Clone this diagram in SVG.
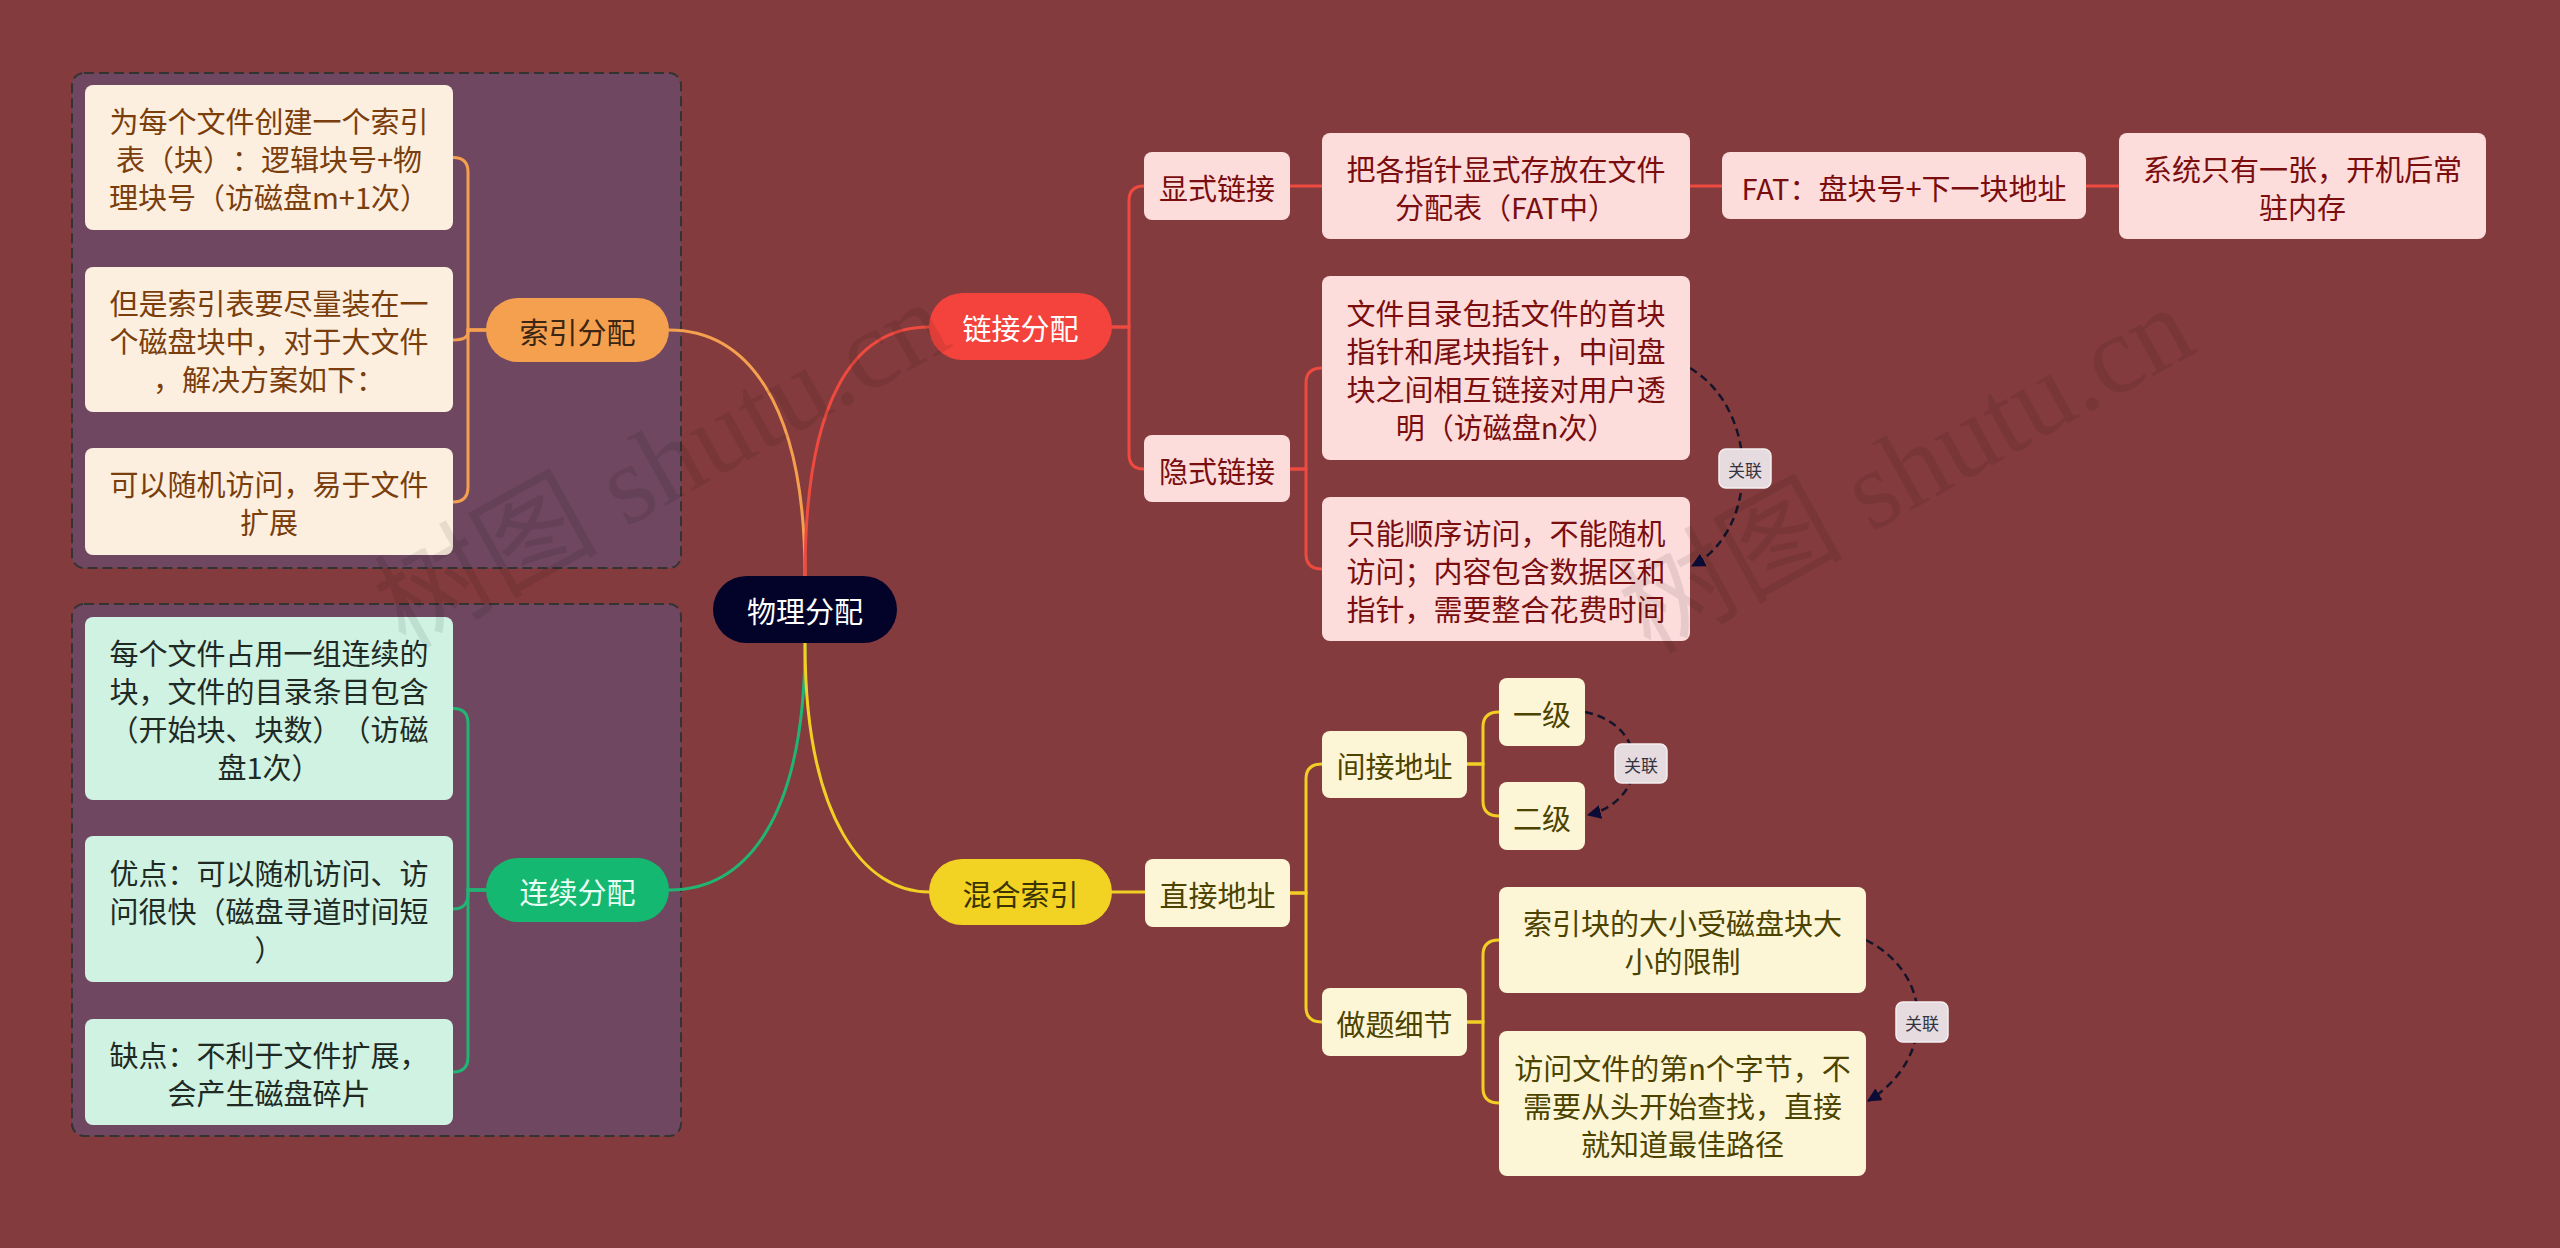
<svg xmlns="http://www.w3.org/2000/svg" width="2560" height="1248" viewBox="0 0 2560 1248">
<defs>
<style>
.t{font-family:"Noto Sans CJK SC","Noto Sans",sans-serif;font-size:29px;text-anchor:middle;dominant-baseline:central;text-spacing-trim:space-all}
.s{font-family:"Noto Sans CJK SC","Noto Sans",sans-serif;font-size:17px;text-anchor:middle;dominant-baseline:central;fill:#333340}
.grp{fill:#6F4760;stroke:#333;stroke-width:2;stroke-dasharray:10 5}
.c{fill:none;stroke-width:3;stroke-linecap:round}
.or{stroke:#F5A04F}.gr{stroke:#21B574}.rd{stroke:#EE4A40}.ye{stroke:#F2CF24}
.rel{fill:none;stroke:#14142a;stroke-width:2.5;stroke-dasharray:8 5}
.lab{fill:#E6DCE0;stroke:#f4eef0;stroke-width:1.5}
.nO{fill:#FDEFE0}.tO{fill:#7A3E0C}
.nG{fill:#CFF2E3}.tG{fill:#1F2A24}
.nR{fill:#FDDCDC}.tR{fill:#7A0E0E}
.nY{fill:#FDF6D6}.tY{fill:#4C4300}
.wm{font-family:"Liberation Serif","Noto Sans CJK SC",serif;font-size:112px;fill:#000;opacity:0.08}
</style>
<marker id="ah" viewBox="0 0 12 12" refX="11" refY="6" markerWidth="14" markerHeight="14" markerUnits="userSpaceOnUse" orient="auto">
<path d="M0,0 L12,6 L0,12 Z" fill="#0B0B35"/>
</marker>
</defs>
<rect x="0" y="0" width="2560" height="1248" fill="#843B3D"/>

<rect class="grp" x="72" y="73" width="609" height="495" rx="12"/>
<rect class="grp" x="72" y="604" width="609" height="532" rx="12"/>

<g id="connectors">
<path class="c or" d="M669,330 C745,330 805,400 805,576"/>
<path class="c rd" d="M929,327 C853,327 805,400 805,576"/>
<path class="c gr" d="M669,890 C745,890 805,820 805,643"/>
<path class="c ye" d="M929,892 C865,892 805,820 805,643"/>

<path class="c or" d="M486,330 H468 V172 Q468,157.5 453,157.5"/>
<path class="c or" d="M486,330 H468 V332 Q468,340 453,340"/>
<path class="c or" d="M486,330 H468 V487 Q468,502 453,502"/>

<path class="c gr" d="M486,890 H468 V723 Q468,708.5 453,708.5"/>
<path class="c gr" d="M486,890 H468 V894 Q468,909 453,909"/>
<path class="c gr" d="M486,890 H468 V1057 Q468,1072 453,1072"/>

<path class="c rd" d="M1112,327 H1129 V201 Q1129,186 1144,186"/>
<path class="c rd" d="M1112,327 H1129 V454 Q1129,469 1144,469"/>
<path class="c rd" d="M1290,186 H1322"/>
<path class="c rd" d="M1690,186 H1722"/>
<path class="c rd" d="M2086,186 H2119"/>
<path class="c rd" d="M1290,469 H1306 V383 Q1306,368 1322,368"/>
<path class="c rd" d="M1290,469 H1306 V554 Q1306,569 1322,569"/>

<path class="c ye" d="M1112,892 H1145"/>
<path class="c ye" d="M1290,893 H1306 V779 Q1306,764 1322,764"/>
<path class="c ye" d="M1290,893 H1306 V1007 Q1306,1022 1322,1022"/>
<path class="c ye" d="M1467,764 H1483 V727 Q1483,712 1499,712"/>
<path class="c ye" d="M1467,764 H1483 V801 Q1483,816 1499,816"/>
<path class="c ye" d="M1467,1022 H1483 V955 Q1483,940 1499,940"/>
<path class="c ye" d="M1467,1022 H1483 V1088 Q1483,1103 1499,1103"/>

<path class="rel" d="M1690,368 C1760,410 1760,530 1692,566" marker-end="url(#ah)"/>
<path class="rel" d="M1585,712 C1650,725 1650,800 1588,815" marker-end="url(#ah)"/>
<path class="rel" d="M1866,940 C1935,975 1935,1060 1868,1101" marker-end="url(#ah)"/>
<rect class="lab" x="1719" y="449" width="52" height="39" rx="7"/>
<text class="s" x="1745" y="469">关联</text>
<rect class="lab" x="1615" y="744" width="52" height="39" rx="7"/>
<text class="s" x="1641" y="764">关联</text>
<rect class="lab" x="1896" y="1002" width="52" height="40" rx="7"/>
<text class="s" x="1922" y="1022">关联</text>
</g>

<g id="root">
<rect x="713" y="576" width="184" height="67" rx="33.5" fill="#03032A"/>
<text class="t" x="805" y="610" fill="#FFFFFF">物理分配</text>
</g>

<g id="n-suoyin">
<rect x="486" y="298" width="183" height="64" rx="32" fill="#F5A04F"/>
<text class="t" x="577.5" y="331" fill="#3A2612">索引分配</text>
</g>
<g id="n-suoyin-1">
<rect class="nO" x="85" y="85" width="368" height="145" rx="8"/>
<text class="t tO" x="269" y="120">为每个文件创建一个索引</text>
<text class="t tO" x="269" y="158">表（块）：逻辑块号+物</text>
<text class="t tO" x="269" y="196">理块号（访磁盘m+1次）</text>
</g>
<g id="n-suoyin-2">
<rect class="nO" x="85" y="267" width="368" height="145" rx="8"/>
<text class="t tO" x="269" y="302">但是索引表要尽量装在一</text>
<text class="t tO" x="269" y="340">个磁盘块中，对于大文件</text>
<text class="t tO" x="269" y="378">，解决方案如下：</text>
</g>
<g id="n-suoyin-3">
<rect class="nO" x="85" y="448" width="368" height="107" rx="8"/>
<text class="t tO" x="269" y="483">可以随机访问，易于文件</text>
<text class="t tO" x="269" y="521">扩展</text>
</g>

<g id="n-lianxu">
<rect x="486" y="858" width="183" height="64" rx="32" fill="#14B870"/>
<text class="t" x="577.5" y="891" fill="#E9FFF4">连续分配</text>
</g>
<g id="n-lianxu-1">
<rect class="nG" x="85" y="617" width="368" height="183" rx="8"/>
<text class="t tG" x="269" y="652">每个文件占用一组连续的</text>
<text class="t tG" x="269" y="690">块，文件的目录条目包含</text>
<text class="t tG" x="269" y="728">（开始块、块数）（访磁</text>
<text class="t tG" x="269" y="766">盘1次）</text>
</g>
<g id="n-lianxu-2">
<rect class="nG" x="85" y="836" width="368" height="146" rx="8"/>
<text class="t tG" x="269" y="872">优点：可以随机访问、访</text>
<text class="t tG" x="269" y="910">问很快（磁盘寻道时间短</text>
<text class="t tG" x="269" y="948">）</text>
</g>
<g id="n-lianxu-3">
<rect class="nG" x="85" y="1019" width="368" height="106" rx="8"/>
<text class="t tG" x="269" y="1054">缺点：不利于文件扩展，</text>
<text class="t tG" x="269" y="1092">会产生磁盘碎片</text>
</g>

<g id="n-lianjie">
<rect x="929" y="293" width="183" height="67" rx="33.5" fill="#F4433C"/>
<text class="t" x="1020.5" y="327" fill="#FFFFFF">链接分配</text>
</g>
<g id="n-xianshi">
<rect class="nR" x="1144" y="152" width="146" height="68" rx="8"/>
<text class="t tR" x="1217" y="187">显式链接</text>
</g>
<g id="n-xianshi-1">
<rect class="nR" x="1322" y="133" width="368" height="106" rx="8"/>
<text class="t tR" x="1506" y="168">把各指针显式存放在文件</text>
<text class="t tR" x="1506" y="206">分配表（FAT中）</text>
</g>
<g id="n-fat">
<rect class="nR" x="1722" y="152" width="364" height="67" rx="8"/>
<text class="t tR" x="1904" y="187">FAT：盘块号+下一块地址</text>
</g>
<g id="n-xitong">
<rect class="nR" x="2119" y="133" width="367" height="106" rx="8"/>
<text class="t tR" x="2302.5" y="168">系统只有一张，开机后常</text>
<text class="t tR" x="2302.5" y="206">驻内存</text>
</g>
<g id="n-yinshi">
<rect class="nR" x="1144" y="435" width="146" height="67" rx="8"/>
<text class="t tR" x="1217" y="470">隐式链接</text>
</g>
<g id="n-yinshi-1">
<rect class="nR" x="1322" y="276" width="368" height="184" rx="8"/>
<text class="t tR" x="1506" y="312">文件目录包括文件的首块</text>
<text class="t tR" x="1506" y="350">指针和尾块指针，中间盘</text>
<text class="t tR" x="1506" y="388">块之间相互链接对用户透</text>
<text class="t tR" x="1506" y="426">明（访磁盘n次）</text>
</g>
<g id="n-yinshi-2">
<rect class="nR" x="1322" y="497" width="368" height="144" rx="8"/>
<text class="t tR" x="1506" y="532">只能顺序访问，不能随机</text>
<text class="t tR" x="1506" y="570">访问；内容包含数据区和</text>
<text class="t tR" x="1506" y="608">指针，需要整合花费时间</text>
</g>

<g id="n-hunhe">
<rect x="929" y="859" width="183" height="66" rx="33" fill="#F2D323"/>
<text class="t" x="1020.5" y="893" fill="#3A3300">混合索引</text>
</g>
<g id="n-zhijie">
<rect class="nY" x="1145" y="859" width="145" height="68" rx="8"/>
<text class="t tY" x="1217.5" y="894">直接地址</text>
</g>
<g id="n-jianjie">
<rect class="nY" x="1322" y="731" width="145" height="67" rx="8"/>
<text class="t tY" x="1394.5" y="765">间接地址</text>
</g>
<g id="n-yiji">
<rect class="nY" x="1499" y="678" width="86" height="68" rx="8"/>
<text class="t tY" x="1542" y="713">一级</text>
</g>
<g id="n-erji">
<rect class="nY" x="1499" y="782" width="86" height="68" rx="8"/>
<text class="t tY" x="1542" y="817">二级</text>
</g>
<g id="n-zuoti">
<rect class="nY" x="1322" y="988" width="145" height="68" rx="8"/>
<text class="t tY" x="1394.5" y="1023">做题细节</text>
</g>
<g id="n-zuoti-1">
<rect class="nY" x="1499" y="887" width="367" height="106" rx="8"/>
<text class="t tY" x="1682.5" y="922">索引块的大小受磁盘块大</text>
<text class="t tY" x="1682.5" y="960">小的限制</text>
</g>
<g id="n-zuoti-2">
<rect class="nY" x="1499" y="1031" width="367" height="145" rx="8"/>
<text class="t tY" x="1682.5" y="1067">访问文件的第n个字节，不</text>
<text class="t tY" x="1682.5" y="1105">需要从头开始查找，直接</text>
<text class="t tY" x="1682.5" y="1143">就知道最佳路径</text>
</g>

<text class="wm" x="405" y="650" transform="rotate(-29 405 650)">树图 shutu.cn</text>
<text class="wm" x="1650" y="655" transform="rotate(-29 1650 655)">树图 shutu.cn</text>
</svg>
